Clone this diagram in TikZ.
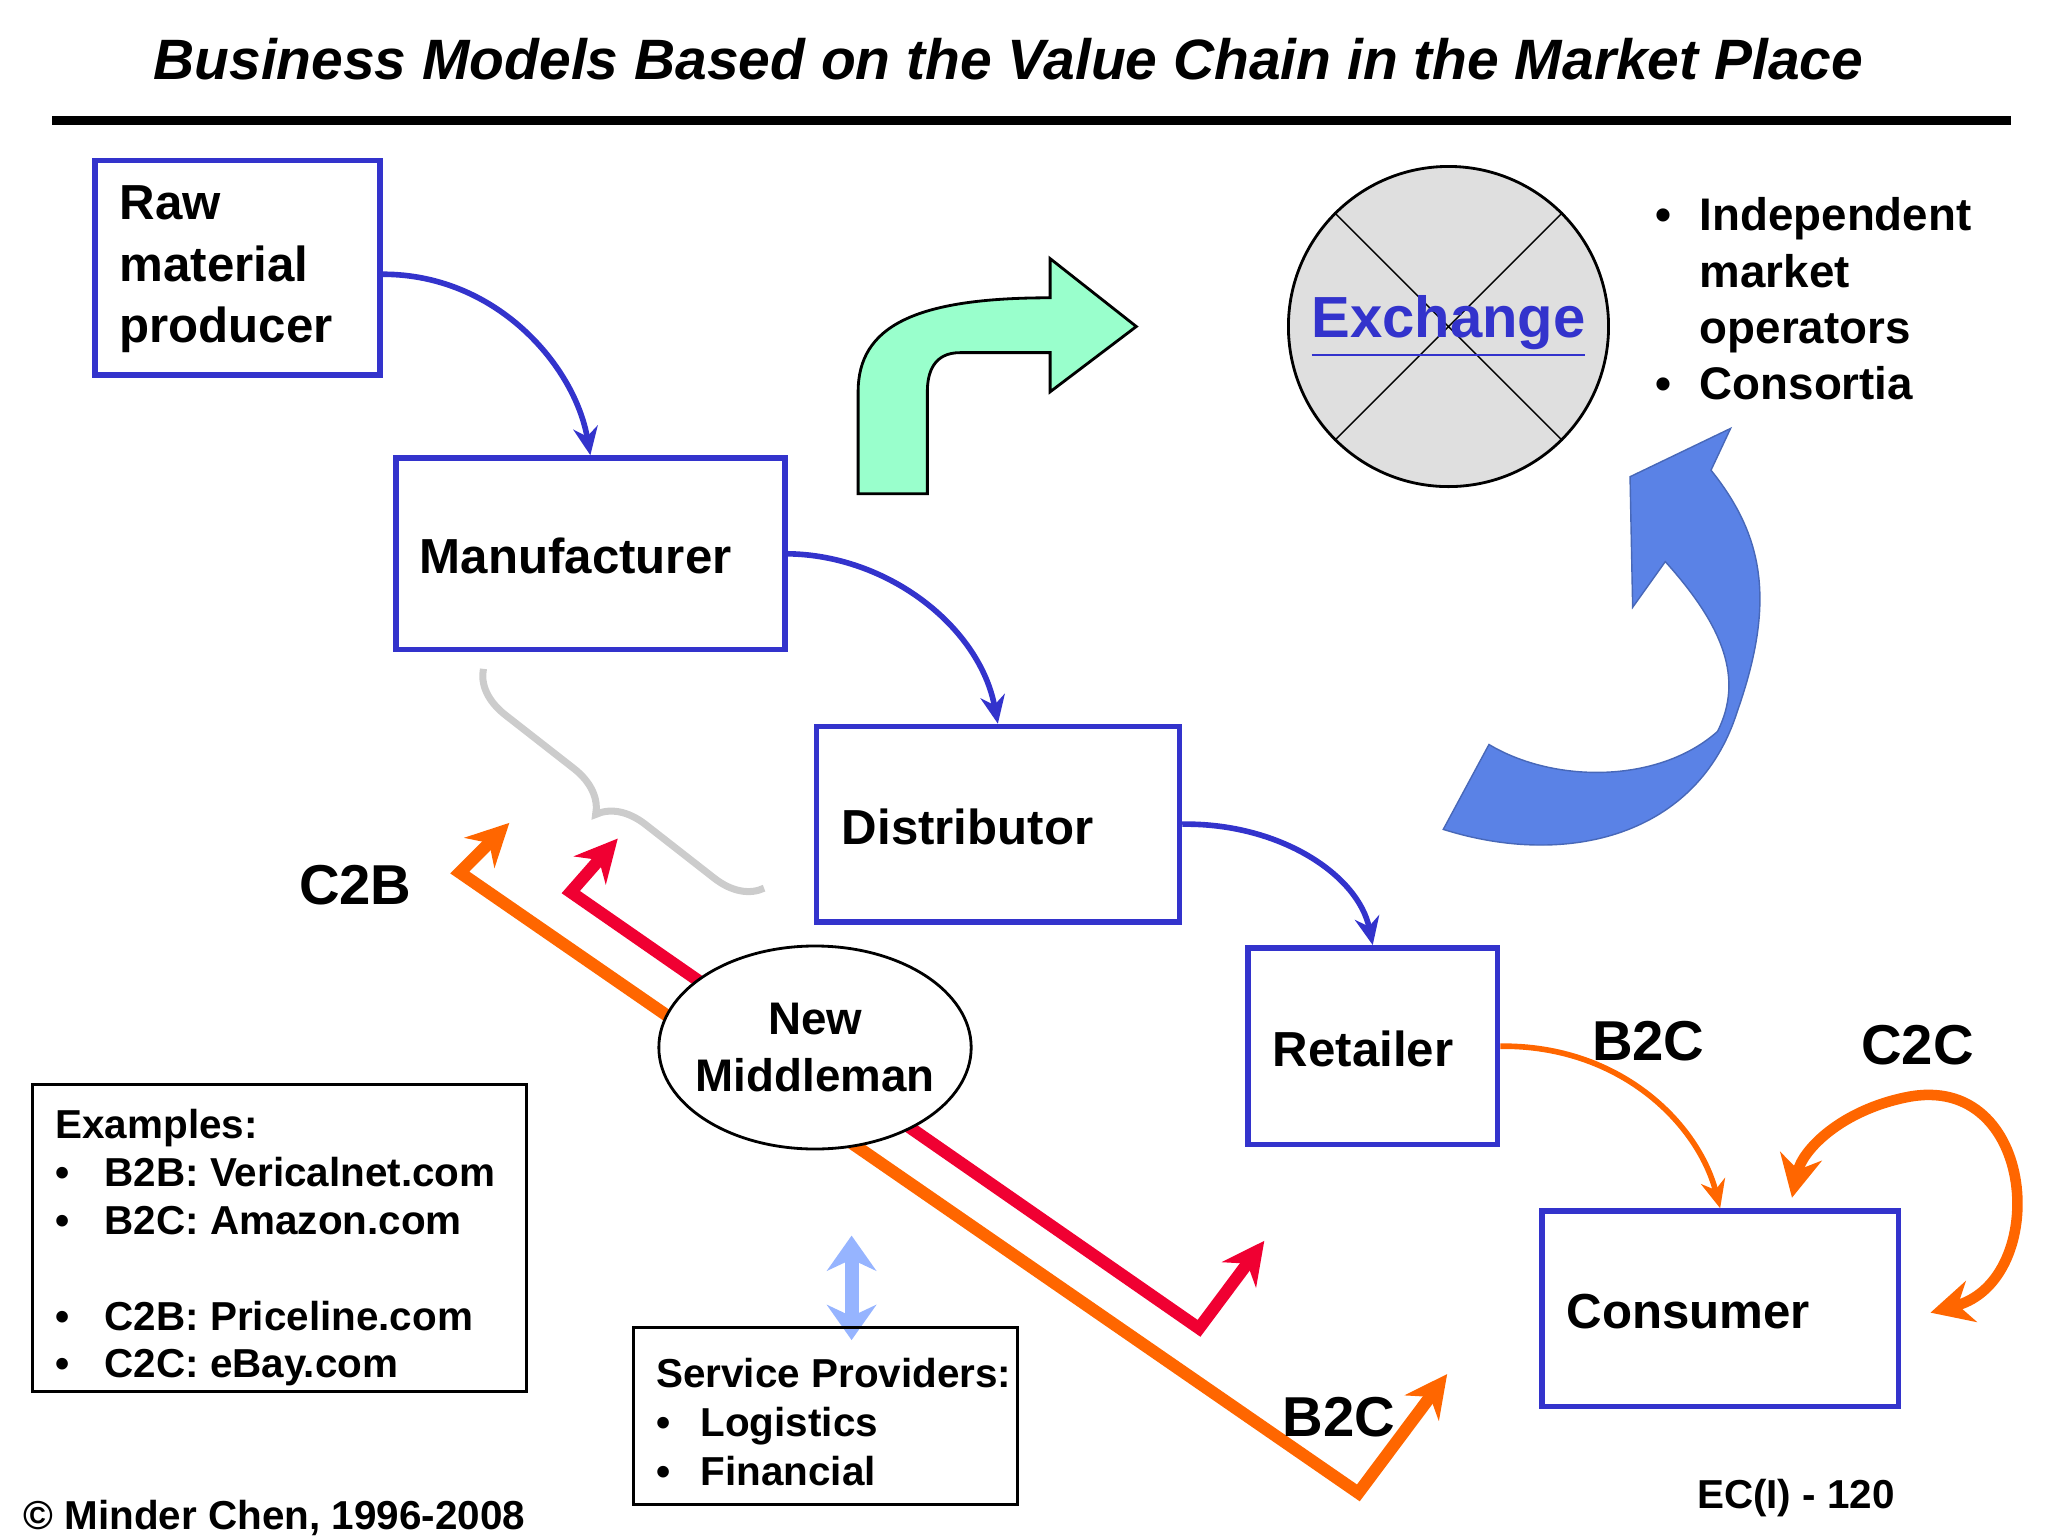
\documentclass[tikz,border=0pt]{standalone}
\usepackage{fontspec}
\setmainfont{Liberation Sans}
\usetikzlibrary{arrows.meta, decorations.pathreplacing, shapes.geometric}
\definecolor{boxblue}{RGB}{51,51,204}
\definecolor{arrorange}{RGB}{255,102,0}
\definecolor{arrred}{RGB}{240,0,50}
\definecolor{mint}{RGB}{153,255,204}
\definecolor{skyblue}{RGB}{90,130,230}
\definecolor{lightarr}{RGB}{150,180,255}
\def\u{0.3703pt}
\begin{document}
\begin{tikzpicture}[x=0.01306cm, y=-0.01306cm,
    chainbox/.style={draw=boxblue, line width=1.6pt, inner sep=0pt, font=\fontsize{14}{17}\selectfont\bfseries, align=left},
    flow/.style={draw=boxblue, line width=1.6pt, -{Stealth[length=8pt,width=7pt]}},
    cflow/.style={draw=arrorange, line width=1.6pt, -{Stealth[length=8pt,width=7pt]}},
    lbl/.style={font=\fontsize{16}{19}\selectfont\bfseries},
    infobox/.style={draw, line width=0.8pt, inner sep=0pt, align=left, font=\fontsize{11}{14}\selectfont\bfseries}]
  \useasboundingbox (0,0) rectangle (1568,1176);
  % title
  \node (title) at (772,45) {\fontsize{16.2}{19}\selectfont\bfseries\itshape Business Models Based on the Value Chain in the Market Place};
  \draw[line width=2.5pt] (40,92) -- (1540,92);
  % value chain boxes
  \node[chainbox, minimum width=219*\u, minimum height=165*\u] (raw) at (182,205) {};
  \node[anchor=north west, font=\fontsize{14}{17.5}\selectfont\bfseries, align=left] at (82,133) {Raw\\material\\producer};
  \node[chainbox, minimum width=299*\u, minimum height=147*\u] (manu) at (452,424) {};
  \node[anchor=west, font=\fontsize{14}{17}\selectfont\bfseries] at (312,426) {Manufacturer};
  \node[chainbox, minimum width=279*\u, minimum height=150*\u] (dist) at (764,631) {};
  \node[anchor=west, font=\fontsize{14}{17}\selectfont\bfseries] at (635,633) {Distributor};
  \node[chainbox, minimum width=192*\u, minimum height=151*\u] (ret) at (1051,801) {};
  \node[anchor=west, font=\fontsize{14}{17}\selectfont\bfseries] at (965,803) {Retailer};
  \node[chainbox, minimum width=274*\u, minimum height=150*\u] (cons) at (1317,1002) {};
  \node[anchor=west, font=\fontsize{14}{17}\selectfont\bfseries] at (1190,1004) {Consumer};
  % chain arrows
  \draw[flow] ([yshift=-5*\u]raw.east) .. controls (380,210) and (440,280) .. (manu.north);
  \draw[flow] (manu.east) .. controls (680,425) and (750,480) .. (dist.north);
  \draw[flow] (dist.east) .. controls (980,630) and (1040,670) .. (ret.north);
  \draw[cflow] (ret.east) .. controls (1240,800) and (1300,860) .. (cons.north);
  \coordinate (loopin) at (1478,1005);
  \draw[draw=arrorange, line width=3pt, {Stealth[length=12pt,width=12pt]}-{Stealth[length=12pt,width=12pt]}] (loopin) .. controls (1570,980) and (1560,820) .. (1460,840) .. controls (1410,850) and (1380,880) .. (1372,917);
  % exchange
  \node[circle, draw, fill=gray!25, minimum size=246*\u, line width=0.8pt] (ex) at (1109,250) {};
  \draw (ex.north west) -- (ex.south east) (ex.north east) -- (ex.south west);
  \node[text=boxblue, font=\fontsize{16.5}{19}\selectfont\bfseries] at (ex) {\underline{Exchange}};
  \node[anchor=north west, align=left, font=\fontsize{13}{16}\selectfont\bfseries] (ops) at (1258,142) {%
    \makebox[12.6pt][l]{\textbullet}Independent\\\makebox[12.6pt][l]{}market\\\makebox[12.6pt][l]{}operators\\\makebox[12.6pt][l]{\textbullet}Consortia};
  % green bent arrow
  \draw[fill=mint, line width=0.8pt] (657,378) -- (657,300) .. controls (657,250) and (700,228) .. (804,228) -- (804,198) -- (870,250) -- (804,300) -- (804,270) -- (735,270) .. controls (715,270) and (710,285) .. (710,300) -- (710,378) -- cycle;
  % blue curved arrow
  \draw[fill=skyblue, draw=skyblue!80!black, line width=0.4pt] (1105,635) .. controls (1200,665) and (1300,640) .. (1330,545) .. controls (1360,460) and (1350,410) .. (1310,360) -- (1325,328) -- (1248,365) -- (1250,465) -- (1275,430) .. controls (1320,480) and (1335,520) .. (1315,560) .. controls (1270,600) and (1190,600) .. (1140,570) -- cycle;
  % gray brace
  \draw[gray!40, line width=2pt, decorate, decoration={brace, amplitude=13pt}] (585,680) -- (370,512);
  % long arrows
  \draw[draw=arrorange, line width=3.5pt, {Stealth[length=12pt,width=12pt]}-{Stealth[length=12pt,width=12pt]}, line join=miter] (390,630) -- (352,668) -- (1040,1143) -- (1108,1052);
  \draw[draw=arrred, line width=3.5pt, {Stealth[length=12pt,width=12pt]}-{Stealth[length=12pt,width=12pt]}] (473,642) -- (437,683) -- (918,1017) -- (968,950);
  \node[ellipse, draw, fill=white, inner sep=0pt, minimum width=240*\u, minimum height=156*\u, line width=0.8pt] (mid) at (624,802) {};
  \node[align=center, font=\fontsize{13}{16}\selectfont\bfseries] (midtext) at (mid) {New\\Middleman};
  \draw[lightarr, line width=4pt, {Stealth[length=10pt,width=14pt]}-{Stealth[length=10pt,width=14pt]}] (652,946) -- (652,1026);
  % info boxes
  \node[infobox, minimum width=295*\u, minimum height=136*\u] (serv) at (632,1084) {};
  \node[anchor=north west, align=left, font=\fontsize{11.5}{14}\selectfont\bfseries] at (493,1030) {Service Providers:\\\makebox[12.6pt][l]{\textbullet}Logistics\\\makebox[12.6pt][l]{\textbullet}Financial};
  \node[infobox, minimum width=379*\u, minimum height=236*\u] (exbox) at (214,948) {};
  \node[anchor=north west, align=left, font=\fontsize{11.5}{13.6}\selectfont\bfseries] at (33,840) {Examples:\\\makebox[14pt][l]{\textbullet}B2B: Vericalnet.com\\\makebox[14pt][l]{\textbullet}B2C: Amazon.com\\[13.6pt]\makebox[14pt][l]{\textbullet}C2B: Priceline.com\\\makebox[14pt][l]{\textbullet}C2C: eBay.com};
  % labels
  \node[lbl] (c2b) at (272,678) {C2B};
  \node[lbl] (b2c) at (1262,797) {B2C};
  \node[lbl] (c2c) at (1468,800) {C2C};
  \node[lbl] (b2cb) at (1025,1085) {B2C};
  \node[font=\fontsize{11.5}{14}\selectfont\bfseries] (copy) at (210,1162) {\textcopyright{} Minder Chen, 1996-2008};
  \node[font=\fontsize{11.5}{14}\selectfont\bfseries] (page) at (1375,1147) {EC(I) - 120};
\end{tikzpicture}
\end{document}
